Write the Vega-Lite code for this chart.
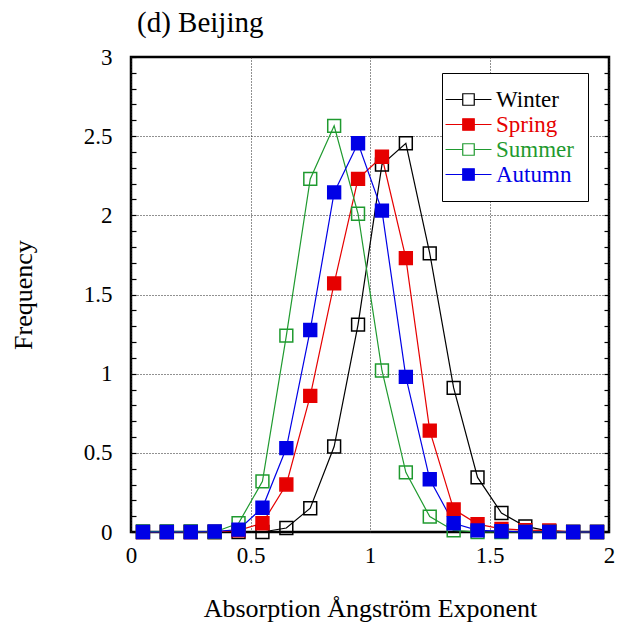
{
  "$schema": "https://vega.github.io/schema/vega-lite/v6.json",
  "width": 478,
  "height": 475,
  "autosize": {"type": "none"},
  "padding": {"left": 131, "top": 57, "right": 19, "bottom": 94},
  "background": "white",
  "title": {"text": "(d) Beijing", "anchor": "start", "frame": "group", "font": "'Liberation Serif', 'Times New Roman', serif", "fontSize": 29, "fontWeight": "normal", "color": "black", "offset": 8, "dx": 6},
  "config": {
    "view": {"stroke": "black", "strokeWidth": 2.5},
    "font": "'Liberation Serif', 'Times New Roman', serif",
    "axis": {"labelFont": "'Liberation Serif', 'Times New Roman', serif", "titleFont": "'Liberation Serif', 'Times New Roman', serif"},
    "legend": {"labelFont": "'Liberation Serif', 'Times New Roman', serif"}
  },
  "data": {"values": [
    {"season":"Winter","x":0.05,"f":0},{"season":"Winter","x":0.15,"f":0},{"season":"Winter","x":0.25,"f":0},{"season":"Winter","x":0.35,"f":0},{"season":"Winter","x":0.45,"f":0},{"season":"Winter","x":0.55,"f":0},{"season":"Winter","x":0.65,"f":0.025},{"season":"Winter","x":0.75,"f":0.15},{"season":"Winter","x":0.85,"f":0.54},{"season":"Winter","x":0.95,"f":1.31},{"season":"Winter","x":1.05,"f":2.32},{"season":"Winter","x":1.15,"f":2.455},{"season":"Winter","x":1.25,"f":1.76},{"season":"Winter","x":1.35,"f":0.91},{"season":"Winter","x":1.45,"f":0.345},{"season":"Winter","x":1.55,"f":0.12},{"season":"Winter","x":1.65,"f":0.035},{"season":"Winter","x":1.75,"f":0.005},{"season":"Winter","x":1.85,"f":0},{"season":"Winter","x":1.95,"f":0},
    {"season":"Spring","x":0.05,"f":0},{"season":"Spring","x":0.15,"f":0},{"season":"Spring","x":0.25,"f":0},{"season":"Spring","x":0.35,"f":0},{"season":"Spring","x":0.45,"f":0.01},{"season":"Spring","x":0.55,"f":0.055},{"season":"Spring","x":0.65,"f":0.3},{"season":"Spring","x":0.75,"f":0.86},{"season":"Spring","x":0.85,"f":1.57},{"season":"Spring","x":0.95,"f":2.23},{"season":"Spring","x":1.05,"f":2.37},{"season":"Spring","x":1.15,"f":1.73},{"season":"Spring","x":1.25,"f":0.64},{"season":"Spring","x":1.35,"f":0.143},{"season":"Spring","x":1.45,"f":0.05},{"season":"Spring","x":1.55,"f":0.02},{"season":"Spring","x":1.65,"f":0.012},{"season":"Spring","x":1.75,"f":0.01},{"season":"Spring","x":1.85,"f":0},{"season":"Spring","x":1.95,"f":0},
    {"season":"Summer","x":0.05,"f":0.003},{"season":"Summer","x":0.15,"f":0.003},{"season":"Summer","x":0.25,"f":0.003},{"season":"Summer","x":0.35,"f":0},{"season":"Summer","x":0.45,"f":0.055},{"season":"Summer","x":0.55,"f":0.32},{"season":"Summer","x":0.65,"f":1.24},{"season":"Summer","x":0.75,"f":2.23},{"season":"Summer","x":0.85,"f":2.565},{"season":"Summer","x":0.95,"f":2.01},{"season":"Summer","x":1.05,"f":1.02},{"season":"Summer","x":1.15,"f":0.377},{"season":"Summer","x":1.25,"f":0.097},{"season":"Summer","x":1.35,"f":0.01},{"season":"Summer","x":1.45,"f":0},{"season":"Summer","x":1.55,"f":0},{"season":"Summer","x":1.65,"f":0},{"season":"Summer","x":1.75,"f":0},{"season":"Summer","x":1.85,"f":0},{"season":"Summer","x":1.95,"f":0},
    {"season":"Autumn","x":0.05,"f":0},{"season":"Autumn","x":0.15,"f":0},{"season":"Autumn","x":0.25,"f":0},{"season":"Autumn","x":0.35,"f":0.003},{"season":"Autumn","x":0.45,"f":0.015},{"season":"Autumn","x":0.55,"f":0.153},{"season":"Autumn","x":0.65,"f":0.53},{"season":"Autumn","x":0.75,"f":1.276},{"season":"Autumn","x":0.85,"f":2.145},{"season":"Autumn","x":0.95,"f":2.455},{"season":"Autumn","x":1.05,"f":2.03},{"season":"Autumn","x":1.15,"f":0.98},{"season":"Autumn","x":1.25,"f":0.333},{"season":"Autumn","x":1.35,"f":0.055},{"season":"Autumn","x":1.45,"f":0.01},{"season":"Autumn","x":1.55,"f":0.005},{"season":"Autumn","x":1.65,"f":0},{"season":"Autumn","x":1.75,"f":0},{"season":"Autumn","x":1.85,"f":0},{"season":"Autumn","x":1.95,"f":0}
  ]},
  "resolve": {"axis": {"y": "independent"}},
  "layer": [
    {
      "mark": {"type": "line", "strokeWidth": 1.2},
      "encoding": {
        "x": {"field": "x", "type": "quantitative", "scale": {"domain": [0, 2], "nice": false},
          "axis": {"values": [0, 0.5, 1, 1.5, 2], "format": "~g", "grid": true, "gridDash": [1, 2], "gridColor": "#222", "gridWidth": 1, "ticks": false, "domain": false,
            "labelFontSize": 23, "labelColor": "black", "labelPadding": 12, "labelFlush": false,
            "title": "Absorption Ångström Exponent", "titleFontSize": 26, "titleFontWeight": "normal", "titleColor": "black", "titlePadding": 28}},
        "y": {"field": "f", "type": "quantitative", "scale": {"domain": [0, 3], "nice": false},
          "axis": {"orient": "left", "values": [0,0.1,0.2,0.3,0.4,0.5,0.6,0.7,0.8,0.9,1,1.1,1.2,1.3,1.4,1.5,1.6,1.7,1.8,1.9,2,2.1,2.2,2.3,2.4,2.5,2.6,2.7,2.8,2.9,3],
            "format": "~g",
            "labelExpr": "round(datum.value*10) % 5 == 0 ? datum.label : ''",
            "grid": true, "gridDash": [1, 2], "gridColor": "#222", "gridWidth": 1,
            "gridOpacity": {"condition": {"test": "round(datum.value*10) % 5 == 0 && datum.value > 0.01 && datum.value < 2.99", "value": 1}, "value": 0},
            "ticks": true, "tickSize": -5, "tickColor": "black", "tickWidth": 1.2, "domain": false,
            "labelFontSize": 23, "labelColor": "black", "labelPadding": 24, "labelFlush": false,
            "title": "Frequency", "titleFontSize": 26, "titleFontWeight": "normal", "titleColor": "black", "titlePadding": 47}},
        "stroke": {"field": "season", "type": "nominal",
          "scale": {"domain": ["Winter", "Spring", "Summer", "Autumn"], "range": ["#000000", "#e60000", "#1f9a2f", "#0000e6"]}}
      }
    },
    {
      "mark": {"type": "point", "shape": "square", "filled": true, "size": 165, "strokeWidth": 1.5, "opacity": 1, "fillOpacity": 1},
      "encoding": {
        "x": {"field": "x", "type": "quantitative"},
        "y": {"field": "f", "type": "quantitative",
          "axis": {"orient": "right", "values": [0,0.1,0.2,0.3,0.4,0.5,0.6,0.7,0.8,0.9,1,1.1,1.2,1.3,1.4,1.5,1.6,1.7,1.8,1.9,2,2.1,2.2,2.3,2.4,2.5,2.6,2.7,2.8,2.9,3],
            "labels": false, "grid": false, "domain": false, "ticks": true, "tickSize": -5, "tickColor": "black", "tickWidth": 1.2, "title": null}},
        "stroke": {"field": "season", "type": "nominal",
          "legend": {"orient": "none", "legendX": 311, "legendY": 16, "title": null,
            "strokeColor": "black", "fillColor": "white", "padding": 14,
            "labelFontSize": 23, "labelOffset": 15,
            "symbolType": "M-2,0H-0.5M0.5,0H2M-0.5,-0.5H0.5V0.5H-0.5Z", "symbolSize": 529, "symbolStrokeWidth": 1.2, "rowPadding": 0,
            "encoding": {
              "labels": {"fill": {"condition": [{"test": "datum.value === 'Spring'", "value": "#e60000"}, {"test": "datum.value === 'Summer'", "value": "#1f9a2f"}, {"test": "datum.value === 'Autumn'", "value": "#0000e6"}], "value": "#000000"}}
            }}},
        "fill": {"field": "season", "type": "nominal",
          "scale": {"domain": ["Winter", "Spring", "Summer", "Autumn"], "range": ["transparent", "#e60000", "transparent", "#0000e6"]},
          "legend": {"orient": "none", "legendX": 311, "legendY": 16, "title": null,
            "strokeColor": "black", "fillColor": "white", "padding": 14,
            "labelFontSize": 23, "labelOffset": 15,
            "symbolType": "M-2,0H-0.5M0.5,0H2M-0.5,-0.5H0.5V0.5H-0.5Z", "symbolSize": 529, "symbolStrokeWidth": 1.2, "rowPadding": 0,
            "encoding": {
              "labels": {"fill": {"condition": [{"test": "datum.value === 'Spring'", "value": "#e60000"}, {"test": "datum.value === 'Summer'", "value": "#1f9a2f"}, {"test": "datum.value === 'Autumn'", "value": "#0000e6"}], "value": "#000000"}}
            }}}
      }
    }
  ]
}
